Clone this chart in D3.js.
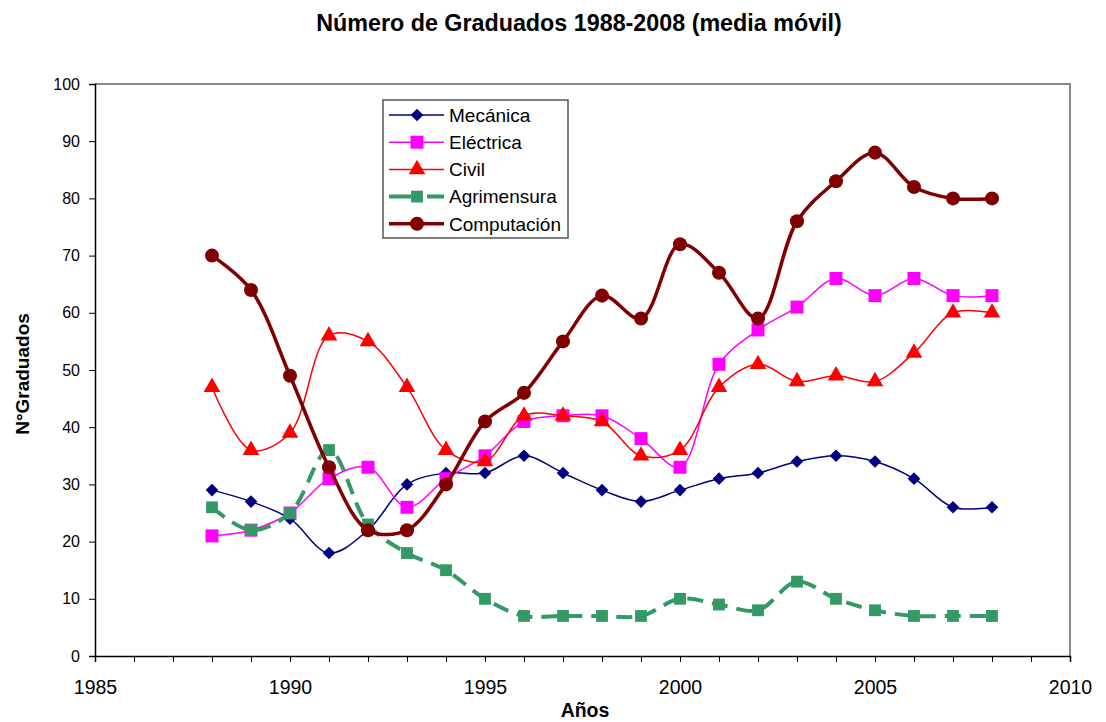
<!DOCTYPE html>
<html lang="es">
<head>
  <meta charset="utf-8">
  <title>Número de Graduados 1988-2008</title>
  <script src="https://d3js.org/d3.v7.min.js"></script>
  <style>
    body { margin: 0; background: #fff; }
    text { font-family: "Liberation Sans", Arial, sans-serif; }
  </style>
</head>
<body>
<script>
  // data
  var years = [1988, 1989, 1990, 1991, 1992, 1993, 1994, 1995, 1996, 1997, 1998,
               1999, 2000, 2001, 2002, 2003, 2004, 2005, 2006, 2007, 2008];
  var mecanica     = [29, 27, 24, 18, 22, 30, 32, 32, 35, 32, 29, 27, 29, 31, 32, 34, 35, 34, 31, 26, 26];
  var electrica    = [21, 22, 25, 31, 33, 26, 31, 35, 41, 42, 42, 38, 33, 51, 57, 61, 66, 63, 66, 63, 63];
  var civil        = [47, 36, 39, 56, 55, 47, 36, 34, 42, 42, 41, 35, 36, 47, 51, 48, 49, 48, 53, 60, 60];
  var agrimensura  = [26, 22, 25, 36, 23, 18, 15, 10, 7, 7, 7, 7, 10, 9, 8, 13, 10, 8, 7, 7, 7];
  var computacion  = [70, 64, 49, 33, 22, 22, 30, 41, 46, 55, 63, 59, 72, 67, 59, 76, 83, 88, 82, 80, 80];
  var xTicks = [1985, 1990, 1995, 2000, 2005, 2010];
  var yTicks = [0, 10, 20, 30, 40, 50, 60, 70, 80, 90, 100];

  // diamond = square turned 45 degrees
  var diamond = {
    draw: function(ctx, size) {
      var r = Math.sqrt(size / 2);
      ctx.moveTo(0, -r); ctx.lineTo(r, 0); ctx.lineTo(0, r); ctx.lineTo(-r, 0); ctx.closePath();
    }
  };

  var series = [
    { name: "Mecánica",    values: mecanica,    color: "#000080", width: 1.5, dash: null,   symbol: diamond,          size: 80 },
    { name: "Eléctrica",   values: electrica,   color: "#ff00ff", width: 1.5, dash: null,   symbol: d3.symbolSquare,  size: 169 },
    { name: "Civil",       values: civil,       color: "#ff0000", width: 1.5, dash: null,   symbol: d3.symbolTriangle, size: 120 },
    { name: "Agrimensura", values: agrimensura, color: "#339966", width: 4,   dash: "16,9", symbol: d3.symbolSquare,  size: 140 },
    { name: "Computación", values: computacion, color: "#800000", width: 3.5, dash: null,   symbol: d3.symbolCircle,  size: 155 }
  ];

  var W = 1106, H = 722;
  var m = { left: 95, right: 36, top: 84, bottom: 66 };

  var svg = d3.select("body").append("svg")
    .attr("width", W).attr("height", H);

  var x = d3.scaleLinear().domain([1985, 2010]).range([m.left, W - m.right]);
  var y = d3.scaleLinear().domain([0, 100]).range([H - m.bottom, m.top]);

  // frame (top and right in grey)
  svg.append("path")
    .attr("d", "M" + x(1985) + "," + y(100) + "H" + x(2010) + "V" + y(0))
    .attr("fill", "none").attr("stroke", "#888").attr("stroke-width", 2);

  // axes
  var xAxis = svg.append("g")
    .attr("transform", "translate(0," + y(0) + ")")
    .call(d3.axisBottom(x).tickValues(d3.range(1985, 2011)).tickSize(6)
      .tickFormat(function(d) { return xTicks.indexOf(d) >= 0 ? d : ""; }));
  xAxis.selectAll("text").attr("font-size", 19.5).attr("fill", "#000")
    .attr("y", 38).attr("dy", 0);

  var yAxis = svg.append("g")
    .attr("transform", "translate(" + x(1985) + ",0)")
    .call(d3.axisLeft(y).tickValues(yTicks).tickSize(6).tickPadding(9));
  yAxis.selectAll("text").attr("font-size", 16).attr("fill", "#000");

  svg.selectAll(".domain").attr("stroke", "#000").attr("stroke-width", 1.5);
  svg.selectAll(".tick line").attr("stroke", "#000");

  // series
  var line = d3.line()
    .x(function(d, i) { return x(years[i]); })
    .y(function(d) { return y(d); })
    .curve(d3.curveCatmullRom.alpha(0.5));

  series.forEach(function(s) {
    var g = svg.append("g");
    g.append("path")
      .attr("d", line(s.values))
      .attr("fill", "none")
      .attr("stroke", s.color)
      .attr("stroke-width", s.width)
      .attr("stroke-dasharray", s.dash);
    g.selectAll("path.mk")
      .data(s.values)
      .enter().append("path")
      .attr("class", "mk")
      .attr("transform", function(d, i) { return "translate(" + x(years[i]) + "," + y(d) + ")"; })
      .attr("d", d3.symbol().type(s.symbol).size(s.size))
      .attr("fill", s.color);
  });

  // legend
  var lg = svg.append("g").attr("transform", "translate(383,100)");
  lg.append("rect")
    .attr("width", 185).attr("height", 138)
    .attr("fill", "#fff").attr("stroke", "#555").attr("stroke-width", 1.5);
  series.forEach(function(s, i) {
    var yy = 15 + i * 27.2;
    lg.append("line")
      .attr("x1", 6).attr("x2", 61).attr("y1", yy).attr("y2", yy)
      .attr("stroke", s.color).attr("stroke-width", s.width)
      .attr("stroke-dasharray", s.dash ? "22,16" : null);
    lg.append("path")
      .attr("transform", "translate(34," + yy + ")")
      .attr("d", d3.symbol().type(s.symbol).size(s.size))
      .attr("fill", s.color);
    lg.append("text")
      .attr("x", 66).attr("y", yy).attr("dy", "0.36em")
      .attr("font-size", 19).text(s.name);
  });

  // titles
  svg.append("text")
    .attr("x", 579).attr("y", 31)
    .attr("text-anchor", "middle").attr("font-size", 23.3).attr("font-weight", "bold")
    .text("Número de Graduados 1988-2008 (media móvil)");

  svg.append("text")
    .attr("x", 585).attr("y", 717)
    .attr("text-anchor", "middle").attr("font-size", 19.5).attr("font-weight", "bold")
    .text("Años");

  svg.append("text")
    .attr("transform", "translate(29,374) rotate(-90)")
    .attr("text-anchor", "middle").attr("font-size", 19).attr("font-weight", "bold")
    .text("N°Graduados");
</script>
</body>
</html>
